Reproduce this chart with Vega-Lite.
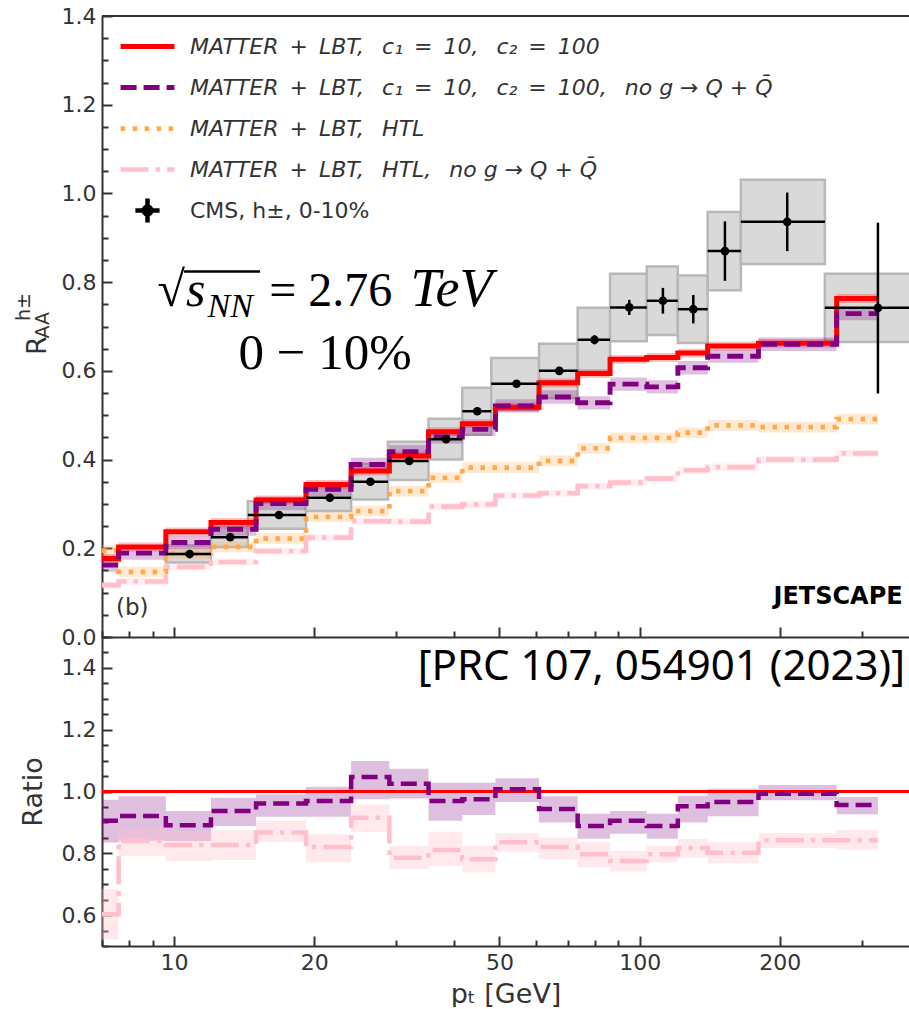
{
"$schema": "https://vega.github.io/schema/vega-lite/v6.json",
"padding": {"left": 15, "top": 5, "right": 0, "bottom": 0},
"spacing": 0,
"bounds": "flush",
"config": {
  "font": "DejaVu Sans",
  "view": {"stroke": null},
  "axis": {"grid": false, "domainColor": "#333", "domainWidth": 2, "tickColor": "#333", "tickWidth": 2, "labelColor": "#333", "labelFontSize": 22, "labelFont": "DejaVu Sans", "titleColor": "#333", "titleFont": "DejaVu Sans", "titleFontSize": 27, "titleFontWeight": "normal", "labelPadding": 16, "labelFlush": false, "labelOverlap": false, "labelBound": false},
  "legend": {"orient": "none", "legendX": 16, "legendY": 1, "labelFontSize": 22, "labelFont": "DejaVu Sans", "labelColor": "#333", "labelLimit": 800, "symbolSize": 2900, "labelOffset": 13, "rowPadding": -14.5, "padding": 0}
},
"datasets": {
  "theory": [
    {"s":"d","pt":7,"v":0.117,"lo":0.109,"hi":0.125},
    {"s":"d","pt":7.6,"v":0.125,"lo":0.117,"hi":0.133},
    {"s":"d","pt":9.6,"v":0.158,"lo":0.150,"hi":0.166},
    {"s":"d","pt":12,"v":0.169,"lo":0.161,"hi":0.177},
    {"s":"d","pt":15,"v":0.194,"lo":0.186,"hi":0.202},
    {"s":"d","pt":19.2,"v":0.224,"lo":0.216,"hi":0.232},
    {"s":"d","pt":24,"v":0.261,"lo":0.253,"hi":0.269},
    {"s":"d","pt":29,"v":0.260,"lo":0.252,"hi":0.268},
    {"s":"d","pt":35.2,"v":0.294,"lo":0.286,"hi":0.302},
    {"s":"d","pt":41.6,"v":0.299,"lo":0.291,"hi":0.307},
    {"s":"d","pt":49,"v":0.319,"lo":0.311,"hi":0.327},
    {"s":"d","pt":60.8,"v":0.324,"lo":0.316,"hi":0.332},
    {"s":"d","pt":73.6,"v":0.340,"lo":0.332,"hi":0.348},
    {"s":"d","pt":86.4,"v":0.348,"lo":0.340,"hi":0.356},
    {"s":"d","pt":103.6,"v":0.357,"lo":0.349,"hi":0.365},
    {"s":"d","pt":120.8,"v":0.376,"lo":0.368,"hi":0.384},
    {"s":"d","pt":140,"v":0.383,"lo":0.375,"hi":0.391},
    {"s":"d","pt":180,"v":0.400,"lo":0.392,"hi":0.408},
    {"s":"d","pt":265,"v":0.414,"lo":0.406,"hi":0.422},
    {"s":"d","pt":325,"v":0.414,"lo":0.406,"hi":0.422},
    {"s":"c","pt":7,"v":0.195,"lo":0.183,"hi":0.207},
    {"s":"c","pt":7.6,"v":0.147,"lo":0.135,"hi":0.159},
    {"s":"c","pt":9.6,"v":0.188,"lo":0.176,"hi":0.200},
    {"s":"c","pt":12,"v":0.203,"lo":0.191,"hi":0.215},
    {"s":"c","pt":15,"v":0.222,"lo":0.210,"hi":0.234},
    {"s":"c","pt":19.2,"v":0.271,"lo":0.259,"hi":0.283},
    {"s":"c","pt":24,"v":0.284,"lo":0.272,"hi":0.296},
    {"s":"c","pt":29,"v":0.329,"lo":0.317,"hi":0.341},
    {"s":"c","pt":35.2,"v":0.359,"lo":0.347,"hi":0.371},
    {"s":"c","pt":41.6,"v":0.382,"lo":0.370,"hi":0.394},
    {"s":"c","pt":49,"v":0.382,"lo":0.370,"hi":0.394},
    {"s":"c","pt":60.8,"v":0.397,"lo":0.385,"hi":0.409},
    {"s":"c","pt":73.6,"v":0.425,"lo":0.413,"hi":0.437},
    {"s":"c","pt":86.4,"v":0.449,"lo":0.437,"hi":0.461},
    {"s":"c","pt":103.6,"v":0.449,"lo":0.437,"hi":0.461},
    {"s":"c","pt":120.8,"v":0.461,"lo":0.449,"hi":0.473},
    {"s":"c","pt":140,"v":0.477,"lo":0.465,"hi":0.489},
    {"s":"c","pt":180,"v":0.473,"lo":0.461,"hi":0.485},
    {"s":"c","pt":265,"v":0.491,"lo":0.479,"hi":0.503},
    {"s":"c","pt":325,"v":0.491,"lo":0.479,"hi":0.503},
    {"s":"a","pt":7,"v":0.177,"lo":0.167,"hi":0.187},
    {"s":"a","pt":7.6,"v":0.203,"lo":0.193,"hi":0.213},
    {"s":"a","pt":9.6,"v":0.237,"lo":0.227,"hi":0.247},
    {"s":"a","pt":12,"v":0.258,"lo":0.248,"hi":0.268},
    {"s":"a","pt":15,"v":0.309,"lo":0.299,"hi":0.319},
    {"s":"a","pt":19.2,"v":0.344,"lo":0.334,"hi":0.354},
    {"s":"a","pt":24,"v":0.374,"lo":0.364,"hi":0.384},
    {"s":"a","pt":29,"v":0.408,"lo":0.398,"hi":0.418},
    {"s":"a","pt":35.2,"v":0.463,"lo":0.453,"hi":0.473},
    {"s":"a","pt":41.6,"v":0.481,"lo":0.471,"hi":0.491},
    {"s":"a","pt":49,"v":0.518,"lo":0.508,"hi":0.528},
    {"s":"a","pt":60.8,"v":0.573,"lo":0.563,"hi":0.583},
    {"s":"a","pt":73.6,"v":0.594,"lo":0.584,"hi":0.604},
    {"s":"a","pt":86.4,"v":0.626,"lo":0.616,"hi":0.636},
    {"s":"a","pt":103.6,"v":0.630,"lo":0.620,"hi":0.640},
    {"s":"a","pt":120.8,"v":0.640,"lo":0.630,"hi":0.650},
    {"s":"a","pt":140,"v":0.656,"lo":0.646,"hi":0.666},
    {"s":"a","pt":180,"v":0.662,"lo":0.652,"hi":0.672},
    {"s":"a","pt":265,"v":0.763,"lo":0.753,"hi":0.773},
    {"s":"a","pt":325,"v":0.763,"lo":0.753,"hi":0.773},
    {"s":"b","pt":7,"v":0.162,"lo":0.147,"hi":0.177},
    {"s":"b","pt":7.6,"v":0.189,"lo":0.174,"hi":0.204},
    {"s":"b","pt":9.6,"v":0.213,"lo":0.198,"hi":0.228},
    {"s":"b","pt":12,"v":0.243,"lo":0.228,"hi":0.258},
    {"s":"b","pt":15,"v":0.301,"lo":0.286,"hi":0.316},
    {"s":"b","pt":19.2,"v":0.333,"lo":0.318,"hi":0.348},
    {"s":"b","pt":24,"v":0.389,"lo":0.374,"hi":0.404},
    {"s":"b","pt":29,"v":0.418,"lo":0.403,"hi":0.433},
    {"s":"b","pt":35.2,"v":0.451,"lo":0.436,"hi":0.466},
    {"s":"b","pt":41.6,"v":0.468,"lo":0.453,"hi":0.483},
    {"s":"b","pt":49,"v":0.521,"lo":0.506,"hi":0.536},
    {"s":"b","pt":60.8,"v":0.541,"lo":0.526,"hi":0.556},
    {"s":"b","pt":73.6,"v":0.528,"lo":0.513,"hi":0.543},
    {"s":"b","pt":86.4,"v":0.570,"lo":0.555,"hi":0.585},
    {"s":"b","pt":103.6,"v":0.564,"lo":0.549,"hi":0.579},
    {"s":"b","pt":120.8,"v":0.607,"lo":0.592,"hi":0.622},
    {"s":"b","pt":140,"v":0.633,"lo":0.618,"hi":0.648},
    {"s":"b","pt":180,"v":0.660,"lo":0.645,"hi":0.675},
    {"s":"b","pt":265,"v":0.729,"lo":0.714,"hi":0.744},
    {"s":"b","pt":325,"v":0.729,"lo":0.714,"hi":0.744}
  ],
  "ratio": [
    {"s":"b","pt":7,"v":0.905,"lo":0.835,"hi":0.973},
    {"s":"b","pt":7.6,"v":0.921,"lo":0.841,"hi":0.985},
    {"s":"b","pt":9.6,"v":0.891,"lo":0.840,"hi":0.937},
    {"s":"b","pt":12,"v":0.937,"lo":0.888,"hi":0.980},
    {"s":"b","pt":15,"v":0.961,"lo":0.918,"hi":0.990},
    {"s":"b","pt":19.2,"v":0.969,"lo":0.918,"hi":1.015},
    {"s":"b","pt":24,"v":1.047,"lo":0.975,"hi":1.099},
    {"s":"b","pt":29,"v":1.025,"lo":0.977,"hi":1.074},
    {"s":"b","pt":35.2,"v":0.969,"lo":0.905,"hi":1.028},
    {"s":"b","pt":41.6,"v":0.975,"lo":0.924,"hi":1.028},
    {"s":"b","pt":49,"v":1.007,"lo":0.966,"hi":1.043},
    {"s":"b","pt":60.8,"v":0.943,"lo":0.900,"hi":0.985},
    {"s":"b","pt":73.6,"v":0.888,"lo":0.847,"hi":0.928},
    {"s":"b","pt":86.4,"v":0.905,"lo":0.863,"hi":0.937},
    {"s":"b","pt":103.6,"v":0.888,"lo":0.847,"hi":0.928},
    {"s":"b","pt":120.8,"v":0.952,"lo":0.900,"hi":0.986},
    {"s":"b","pt":140,"v":0.966,"lo":0.920,"hi":1.009},
    {"s":"b","pt":180,"v":0.993,"lo":0.972,"hi":1.021},
    {"s":"b","pt":265,"v":0.956,"lo":0.926,"hi":0.982},
    {"s":"b","pt":325,"v":0.956,"lo":0.926,"hi":0.982},
    {"s":"d","pt":7,"v":0.603,"lo":0.522,"hi":0.685},
    {"s":"d","pt":7.6,"v":0.840,"lo":0.791,"hi":0.883},
    {"s":"d","pt":9.6,"v":0.827,"lo":0.775,"hi":0.872},
    {"s":"d","pt":12,"v":0.827,"lo":0.778,"hi":0.874},
    {"s":"d","pt":15,"v":0.867,"lo":0.836,"hi":0.906},
    {"s":"d","pt":19.2,"v":0.820,"lo":0.770,"hi":0.862},
    {"s":"d","pt":24,"v":0.915,"lo":0.870,"hi":0.958},
    {"s":"d","pt":29,"v":0.786,"lo":0.749,"hi":0.824},
    {"s":"d","pt":35.2,"v":0.811,"lo":0.760,"hi":0.868},
    {"s":"d","pt":41.6,"v":0.781,"lo":0.738,"hi":0.824},
    {"s":"d","pt":49,"v":0.836,"lo":0.803,"hi":0.865},
    {"s":"d","pt":60.8,"v":0.820,"lo":0.781,"hi":0.851},
    {"s":"d","pt":73.6,"v":0.797,"lo":0.755,"hi":0.836},
    {"s":"d","pt":86.4,"v":0.775,"lo":0.741,"hi":0.808},
    {"s":"d","pt":103.6,"v":0.797,"lo":0.770,"hi":0.824},
    {"s":"d","pt":120.8,"v":0.817,"lo":0.786,"hi":0.846},
    {"s":"d","pt":140,"v":0.802,"lo":0.768,"hi":0.836},
    {"s":"d","pt":180,"v":0.842,"lo":0.817,"hi":0.865},
    {"s":"d","pt":265,"v":0.842,"lo":0.812,"hi":0.876},
    {"s":"d","pt":325,"v":0.842,"lo":0.812,"hi":0.876}
  ],
  "cms": [
    {"s":"e","pt":10.8,"lo":9.6,"hi":12,"v":0.187,"el":0.182,"eh":0.192,"sl":0.168,"sh":0.206},
    {"s":"e","pt":13.2,"lo":12,"hi":14.4,"v":0.225,"el":0.219,"eh":0.231,"sl":0.203,"sh":0.247},
    {"s":"e","pt":16.8,"lo":14.4,"hi":19.2,"v":0.275,"el":0.269,"eh":0.281,"sl":0.244,"sh":0.306},
    {"s":"e","pt":21.6,"lo":19.2,"hi":24,"v":0.314,"el":0.308,"eh":0.320,"sl":0.284,"sh":0.344},
    {"s":"e","pt":26.4,"lo":24,"hi":28.8,"v":0.350,"el":0.344,"eh":0.356,"sl":0.310,"sh":0.390},
    {"s":"e","pt":32.0,"lo":28.8,"hi":35.2,"v":0.397,"el":0.390,"eh":0.404,"sl":0.354,"sh":0.440},
    {"s":"e","pt":38.4,"lo":35.2,"hi":41.6,"v":0.446,"el":0.438,"eh":0.454,"sl":0.400,"sh":0.492},
    {"s":"e","pt":44.8,"lo":41.6,"hi":48,"v":0.509,"el":0.501,"eh":0.517,"sl":0.456,"sh":0.562},
    {"s":"e","pt":54.4,"lo":48,"hi":60.8,"v":0.571,"el":0.563,"eh":0.579,"sl":0.513,"sh":0.629},
    {"s":"e","pt":67.2,"lo":60.8,"hi":73.6,"v":0.600,"el":0.591,"eh":0.609,"sl":0.539,"sh":0.661},
    {"s":"e","pt":80.0,"lo":73.6,"hi":86.4,"v":0.670,"el":0.660,"eh":0.680,"sl":0.598,"sh":0.742},
    {"s":"e","pt":95.0,"lo":86.4,"hi":103.6,"v":0.743,"el":0.726,"eh":0.760,"sl":0.667,"sh":0.819},
    {"s":"e","pt":112.2,"lo":103.6,"hi":120.8,"v":0.758,"el":0.729,"eh":0.787,"sl":0.681,"sh":0.835},
    {"s":"e","pt":130.4,"lo":120.8,"hi":140,"v":0.739,"el":0.707,"eh":0.771,"sl":0.663,"sh":0.815},
    {"s":"e","pt":152.5,"lo":140,"hi":165,"v":0.870,"el":0.803,"eh":0.937,"sl":0.782,"sh":0.958},
    {"s":"e","pt":207.5,"lo":165,"hi":250,"v":0.936,"el":0.870,"eh":1.002,"sl":0.841,"sh":1.031},
    {"s":"e","pt":325,"lo":250,"hi":400,"v":0.742,"el":0.549,"eh":0.934,"sl":0.665,"sh":0.819}
  ]
},
"vconcat": [
{
  "width": 807, "height": 621,
  "layer": [
    {"data": {"name": "cms"},
     "mark": {"type": "rect", "fill": "#d9d9d9", "stroke": "#b8b8b8", "strokeWidth": 2.5, "clip": true},
     "encoding": {
       "x": {"field": "lo", "type": "quantitative", "scale": {"type": "log", "domain": [7, 379], "nice": false},
             "axis": {"orient": "bottom", "title": null, "labels": false, "tickCount": 200, "values": [7,8,9,10,20,30,40,50,60,70,80,90,100,200,300],
                      "tickSize": {"condition": {"test": "indexof([10,20,50,100,200], datum.value) >= 0", "value": -10}, "value": -6}}},
       "x2": {"field": "hi"},
       "y": {"field": "sl", "type": "quantitative", "scale": {"domain": [0, 1.4], "nice": false, "zero": false},
             "axis": {"title": "R", "titleFontSize": 27, "titleX": -57, "titleY": 329, "titleBaseline": "alphabetic", "titleAlign": "center", "tickCount": 200,
                      "values": [0,0.05,0.1,0.15,0.2,0.25,0.3,0.35,0.4,0.45,0.5,0.55,0.6,0.65,0.7,0.75,0.8,0.85,0.9,0.95,1,1.05,1.1,1.15,1.2,1.25,1.3,1.35,1.4],
                      "labelExpr": "indexof([0,0.2,0.4,0.6,0.8,1,1.2,1.4], datum.value) >= 0 ? format(datum.value, '.1f') : ''",
                      "tickSize": {"condition": {"test": "indexof([0,0.2,0.4,0.6,0.8,1,1.2,1.4], datum.value) >= 0", "value": -10}, "value": -6}}},
       "y2": {"field": "sh"}
     }},
    {"data": {"name": "theory"},
     "mark": {"type": "area", "interpolate": "step-after", "opacity": 0.25},
     "encoding": {
       "x": {"field": "pt", "type": "quantitative"},
       "y": {"field": "lo", "type": "quantitative"},
       "y2": {"field": "hi"},
       "fill": {"field": "s", "type": "nominal", "scale": {"domain": ["d","c","a","b"], "range": ["pink","#ffa94d","red","purple"]}, "legend": null}
     }},
    {"data": {"name": "theory"},
     "mark": {"type": "line", "interpolate": "step-after"},
     "encoding": {
       "x": {"field": "pt", "type": "quantitative"},
       "y": {"field": "v", "type": "quantitative"},
       "color": {"field": "s", "type": "nominal", "scale": {"domain": ["a","b","c","d","e"], "range": ["red","purple","#ffa94d","pink","black"]},
                 "legend": {"title": null, "labelExpr": "datum.value == 'a' ? 'MATTER\u2002+\u2002LBT,\u2002 c₁\u2002=\u200210,\u2002 c₂\u2002=\u2002100' : datum.value == 'b' ? 'MATTER\u2002+\u2002LBT,\u2002 c₁\u2002=\u200210,\u2002 c₂\u2002=\u2002100,\u2002 no g → Q + Q̄' : datum.value == 'c' ? 'MATTER\u2002+\u2002LBT,\u2002 HTL' : datum.value == 'd' ? 'MATTER\u2002+\u2002LBT,\u2002 HTL,\u2002 no g → Q + Q̄' : 'CMS, h±, 0-10%'", "labelFontStyle": {"expr": "datum.value == 'e' ? 'normal' : 'italic'"}}},
       "strokeDash": {"field": "s", "type": "nominal", "scale": {"domain": ["a","b","c","d","e"], "range": [[1,0],[16,7],[4.5,7.5],[28,7,4.5,7],[1,0]]},
                 "legend": {"title": null, "labelExpr": "datum.value == 'a' ? 'MATTER\u2002+\u2002LBT,\u2002 c₁\u2002=\u200210,\u2002 c₂\u2002=\u2002100' : datum.value == 'b' ? 'MATTER\u2002+\u2002LBT,\u2002 c₁\u2002=\u200210,\u2002 c₂\u2002=\u2002100,\u2002 no g → Q + Q̄' : datum.value == 'c' ? 'MATTER\u2002+\u2002LBT,\u2002 HTL' : datum.value == 'd' ? 'MATTER\u2002+\u2002LBT,\u2002 HTL,\u2002 no g → Q + Q̄' : 'CMS, h±, 0-10%'", "labelFontStyle": {"expr": "datum.value == 'e' ? 'normal' : 'italic'"}}},
       "strokeWidth": {"field": "s", "type": "nominal", "scale": {"domain": ["a","b","c","d","e"], "range": [5,4.5,4.5,4.5,2.5]},
                 "legend": {"title": null, "labelExpr": "datum.value == 'a' ? 'MATTER\u2002+\u2002LBT,\u2002 c₁\u2002=\u200210,\u2002 c₂\u2002=\u2002100' : datum.value == 'b' ? 'MATTER\u2002+\u2002LBT,\u2002 c₁\u2002=\u200210,\u2002 c₂\u2002=\u2002100,\u2002 no g → Q + Q̄' : datum.value == 'c' ? 'MATTER\u2002+\u2002LBT,\u2002 HTL' : datum.value == 'd' ? 'MATTER\u2002+\u2002LBT,\u2002 HTL,\u2002 no g → Q + Q̄' : 'CMS, h±, 0-10%'", "labelFontStyle": {"expr": "datum.value == 'e' ? 'normal' : 'italic'"}}}
     }},
    {"data": {"name": "cms"},
     "mark": {"type": "rule", "color": "black", "strokeWidth": 2.5, "clip": true},
     "encoding": {"x": {"field": "lo", "type": "quantitative"}, "x2": {"field": "hi"}, "y": {"field": "v", "type": "quantitative"}}},
    {"data": {"name": "cms"},
     "mark": {"type": "rule", "color": "black", "strokeWidth": 2.5},
     "encoding": {"x": {"field": "pt", "type": "quantitative"}, "y": {"field": "el", "type": "quantitative"}, "y2": {"field": "eh"}}},
    {"data": {"name": "cms"},
     "mark": {"type": "point", "filled": false, "size": 30, "opacity": 1},
     "encoding": {
       "x": {"field": "pt", "type": "quantitative"},
       "y": {"field": "v", "type": "quantitative"},
       "color": {"field": "s", "type": "nominal", "scale": {"domain": ["a","b","c","d","e"], "range": ["red","purple","#ffa94d","pink","black"]},
                 "legend": {"title": null, "labelExpr": "datum.value == 'a' ? 'MATTER\u2002+\u2002LBT,\u2002 c₁\u2002=\u200210,\u2002 c₂\u2002=\u2002100' : datum.value == 'b' ? 'MATTER\u2002+\u2002LBT,\u2002 c₁\u2002=\u200210,\u2002 c₂\u2002=\u2002100,\u2002 no g → Q + Q̄' : datum.value == 'c' ? 'MATTER\u2002+\u2002LBT,\u2002 HTL' : datum.value == 'd' ? 'MATTER\u2002+\u2002LBT,\u2002 HTL,\u2002 no g → Q + Q̄' : 'CMS, h±, 0-10%'", "labelFontStyle": {"expr": "datum.value == 'e' ? 'normal' : 'italic'"}}},
       "shape": {"field": "s", "type": "nominal", "scale": {"domain": ["a","b","c","d","e"], "range": ["stroke","stroke","stroke","stroke","M-0.45,0H0.45M0,-0.45V0.45M0.14,0A0.14,0.14,0,1,1,-0.14,0A0.14,0.14,0,1,1,0.14,0M0.09,0A0.09,0.09,0,1,1,-0.09,0A0.09,0.09,0,1,1,0.09,0M0.04,0A0.04,0.04,0,1,1,-0.04,0A0.04,0.04,0,1,1,0.04,0"]},
                 "legend": {"title": null, "labelExpr": "datum.value == 'a' ? 'MATTER\u2002+\u2002LBT,\u2002 c₁\u2002=\u200210,\u2002 c₂\u2002=\u2002100' : datum.value == 'b' ? 'MATTER\u2002+\u2002LBT,\u2002 c₁\u2002=\u200210,\u2002 c₂\u2002=\u2002100,\u2002 no g → Q + Q̄' : datum.value == 'c' ? 'MATTER\u2002+\u2002LBT,\u2002 HTL' : datum.value == 'd' ? 'MATTER\u2002+\u2002LBT,\u2002 HTL,\u2002 no g → Q + Q̄' : 'CMS, h±, 0-10%'", "labelFontStyle": {"expr": "datum.value == 'e' ? 'normal' : 'italic'"}}},
       "strokeWidth": {"field": "s", "type": "nominal", "scale": {"domain": ["a","b","c","d","e"], "range": [5,4.5,4.5,4.5,2.5]},
                 "legend": {"title": null, "labelExpr": "datum.value == 'a' ? 'MATTER\u2002+\u2002LBT,\u2002 c₁\u2002=\u200210,\u2002 c₂\u2002=\u2002100' : datum.value == 'b' ? 'MATTER\u2002+\u2002LBT,\u2002 c₁\u2002=\u200210,\u2002 c₂\u2002=\u2002100,\u2002 no g → Q + Q̄' : datum.value == 'c' ? 'MATTER\u2002+\u2002LBT,\u2002 HTL' : datum.value == 'd' ? 'MATTER\u2002+\u2002LBT,\u2002 HTL,\u2002 no g → Q + Q̄' : 'CMS, h±, 0-10%'", "labelFontStyle": {"expr": "datum.value == 'e' ? 'normal' : 'italic'"}}}
     }},
    {"data": {"name": "cms"},
     "mark": {"type": "circle", "size": 75, "color": "black", "opacity": 1},
     "encoding": {"x": {"field": "pt", "type": "quantitative"}, "y": {"field": "v", "type": "quantitative"}}},
    {"data": {"values": [{}]},
     "mark": {"type": "rule", "color": "#333", "strokeWidth": 2},
     "encoding": {"y": {"datum": 1.4}}},
    {"data": {"values": [{"t": "AA"}]},
     "mark": {"type": "text", "fontSize": 19, "angle": 270, "align": "center", "baseline": "middle", "color": "#333"},
     "encoding": {"x": {"datum": 5.23}, "y": {"datum": 0.703}, "text": {"field": "t"}}},
    {"data": {"values": [{"t": "h±"}]},
     "mark": {"type": "text", "fontSize": 19, "angle": 270, "align": "center", "baseline": "middle", "color": "#333"},
     "encoding": {"x": {"datum": 4.76}, "y": {"datum": 0.744}, "text": {"field": "t"}}},
    {"data": {"values": [{"t": "√"}]},
     "mark": {"type": "text", "font": "Liberation Serif", "fontSize": 50, "align": "right", "baseline": "alphabetic", "color": "black"},
     "encoding": {"x": {"datum": 10.55}, "y": {"datum": 0.746}, "text": {"field": "t"}}},
    {"data": {"values": [{}]},
     "mark": {"type": "rule", "color": "black", "strokeWidth": 2.5},
     "encoding": {"x": {"datum": 10.5}, "x2": {"datum": 15.3}, "y": {"datum": 0.824}}},
    {"data": {"values": [{"t": "s"}]},
     "mark": {"type": "text", "font": "Liberation Serif", "fontSize": 50, "fontStyle": "italic", "align": "left", "baseline": "alphabetic", "color": "black"},
     "encoding": {"x": {"datum": 10.6}, "y": {"datum": 0.746}, "text": {"field": "t"}}},
    {"data": {"values": [{"t": "NN"}]},
     "mark": {"type": "text", "font": "Liberation Serif", "fontSize": 34, "fontStyle": "italic", "align": "left", "baseline": "alphabetic", "color": "black"},
     "encoding": {"x": {"datum": 11.8}, "y": {"datum": 0.722}, "text": {"field": "t"}}},
    {"data": {"values": [{"t": "= 2.76"}]},
     "mark": {"type": "text", "font": "Liberation Serif", "fontSize": 48, "align": "left", "baseline": "alphabetic", "color": "black"},
     "encoding": {"x": {"datum": 16.0}, "y": {"datum": 0.746}, "text": {"field": "t"}}},
    {"data": {"values": [{"t": "TeV"}]},
     "mark": {"type": "text", "font": "Liberation Serif", "fontSize": 54, "fontStyle": "italic", "align": "left", "baseline": "alphabetic", "color": "black"},
     "encoding": {"x": {"datum": 32.2}, "y": {"datum": 0.746}, "text": {"field": "t"}}},
    {"data": {"values": [{"t": "0 − 10%"}]},
     "mark": {"type": "text", "font": "Liberation Serif", "fontSize": 51, "align": "center", "baseline": "alphabetic", "color": "black"},
     "encoding": {"x": {"datum": 21.1}, "y": {"datum": 0.604}, "text": {"field": "t"}}},
    {"data": {"values": [{"t": "(b)"}]},
     "mark": {"type": "text", "fontSize": 23, "align": "left", "baseline": "alphabetic", "color": "#333"},
     "encoding": {"x": {"datum": 7.5}, "y": {"datum": 0.05}, "text": {"field": "t"}}},
    {"data": {"values": [{"t": "JETSCAPE"}]},
     "mark": {"type": "text", "fontSize": 24, "fontWeight": "bold", "align": "center", "baseline": "alphabetic", "color": "black"},
     "encoding": {"x": {"datum": 266.9}, "y": {"datum": 0.075}, "text": {"field": "t"}}}
  ]
},
{
  "width": 807, "height": 309,
  "layer": [
    {"data": {"name": "ratio"}, "transform": [{"filter": "datum.s == 'b'"}],
     "mark": {"type": "area", "interpolate": "step-after", "color": "purple", "opacity": 0.25},
     "encoding": {
       "x": {"field": "pt", "type": "quantitative", "scale": {"type": "log", "domain": [7, 379], "nice": false},
             "axis": {"orient": "bottom", "title": "pₜ [GeV]", "titleFontSize": 27, "tickCount": 200, "values": [7,8,9,10,20,30,40,50,60,70,80,90,100,200,300],
                      "labelExpr": "indexof([10,20,50,100,200], datum.value) >= 0 ? format(datum.value, 'd') : ''",
                      "tickSize": {"condition": {"test": "indexof([10,20,50,100,200], datum.value) >= 0", "value": -10}, "value": -6}}},
       "y": {"field": "lo", "type": "quantitative", "scale": {"domain": [0.5, 1.5], "nice": false, "zero": false},
             "axis": {"title": "Ratio", "titleFontSize": 27, "titleX": -55, "labels": true, "orient": "left", "tickCount": 200,
                      "values": [0.5,0.55,0.6,0.65,0.7,0.75,0.8,0.85,0.9,0.95,1,1.05,1.1,1.15,1.2,1.25,1.3,1.35,1.4,1.45,1.5],
                      "labelExpr": "indexof([0.6,0.8,1,1.2,1.4], datum.value) >= 0 ? format(datum.value, '.1f') : ''",
                      "tickSize": {"condition": {"test": "indexof([0.6,0.8,1,1.2,1.4], datum.value) >= 0", "value": -10}, "value": -6}}},
       "y2": {"field": "hi"}
     }},
    {"data": {"name": "ratio"}, "transform": [{"filter": "datum.s == 'd'"}],
     "mark": {"type": "area", "interpolate": "step-after", "color": "pink", "opacity": 0.35},
     "encoding": {"x": {"field": "pt", "type": "quantitative"}, "y": {"field": "lo", "type": "quantitative"}, "y2": {"field": "hi"}}},
    {"data": {"values": [{}]},
     "mark": {"type": "rule", "color": "red", "strokeWidth": 3},
     "encoding": {"y": {"datum": 1.0}}},
    {"data": {"name": "ratio"}, "transform": [{"filter": "datum.s == 'd'"}],
     "mark": {"type": "line", "interpolate": "step-after", "color": "pink", "strokeWidth": 4.5, "strokeDash": [28,7,4.5,7]},
     "encoding": {"x": {"field": "pt", "type": "quantitative"}, "y": {"field": "v", "type": "quantitative"}}},
    {"data": {"name": "ratio"}, "transform": [{"filter": "datum.s == 'b'"}],
     "mark": {"type": "line", "interpolate": "step-after", "color": "purple", "strokeWidth": 4.5, "strokeDash": [16,7]},
     "encoding": {"x": {"field": "pt", "type": "quantitative"}, "y": {"field": "v", "type": "quantitative"}}},
    {"data": {"values": [{"t": "[PRC 107, 054901 (2023)]"}]},
     "mark": {"type": "text", "font": "Noto Sans", "fontSize": 42, "align": "right", "baseline": "alphabetic", "color": "black"},
     "encoding": {"x": {"datum": 371.5}, "y": {"datum": 1.362}, "text": {"field": "t"}}}
  ]
}
]
}
